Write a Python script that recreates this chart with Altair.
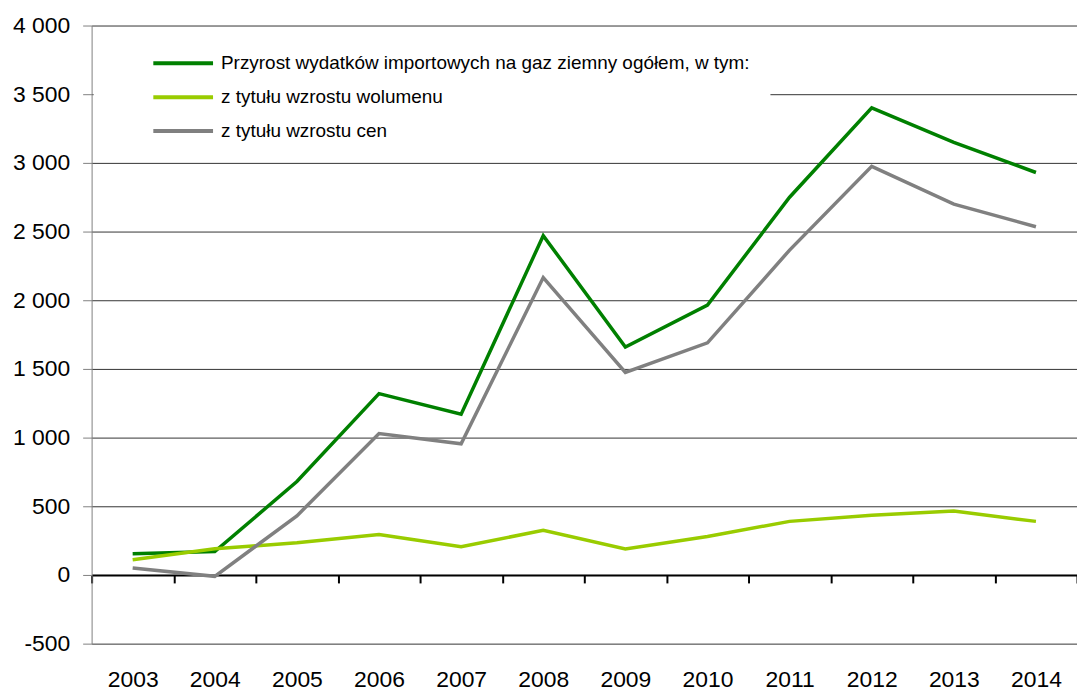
import altair as alt
import pandas as pd

years = [str(y) for y in range(2003, 2015)]
total = [155, 170, 680, 1320, 1170, 2470, 1660, 1965, 2750, 3400, 3150, 2930]
volume = [110, 190, 235, 295, 205, 325, 190, 280, 390, 435, 465, 390]
price = [50, -10, 430, 1030, 955, 2165, 1475, 1690, 2365, 2975, 2700, 2535]
series_names = [
    "Przyrost wydatków importowych na gaz ziemny ogółem, w tym:",
    "z tytułu wzrostu wolumenu",
    "z tytułu wzrostu cen",
]
colors = ["#008000", "#99CC00", "#808080"]
y_ticks = list(range(-500, 4001, 500))

rows = []
for name, vals in zip(series_names, [total, volume, price]):
    for yr, v in zip(years, vals):
        rows.append({"rok": yr, "wartosc": v, "seria": name})
df = pd.DataFrame(rows)

W, H = 990, 621
zero_offset = -H * 500 / 4500

chart = alt.Chart(df).mark_line(strokeWidth=3.5).encode(
    x=alt.X(
        "rok:O",
        scale=alt.Scale(paddingInner=0, paddingOuter=0),
        axis=alt.Axis(
            title=None, orient="bottom", offset=zero_offset,
            domainColor="black", domainWidth=2,
            tickColor="black", tickWidth=2, tickSize=8, tickBand="extent",
            labelPadding=86, labelFontSize=23, labelColor="black",
            labelAngle=0, labelBaseline="top", grid=False,
        ),
    ),
    y=alt.Y(
        "wartosc:Q",
        scale=alt.Scale(domain=[-500, 4000], nice=False, zero=False),
        axis=alt.Axis(
            values=y_ticks, title=None,
            domainColor="#808080", domainWidth=1,
            tickColor="#808080", tickWidth=1, tickSize=9,
            labelPadding=13, labelFontSize=23, labelColor="black",
            labelExpr="replace(replace(format(datum.value, ','), ',', ' '), '\u2212', '-')",
            grid=True, gridColor="#333333", gridWidth=1,
        ),
    ),
    color=alt.Color(
        "seria:N",
        scale=alt.Scale(domain=series_names, range=colors),
        sort=series_names,
        legend=alt.Legend(
            title=None, orient="none", legendX=2, legendY=6,
            symbolType="M2.8,0H8.8", symbolSize=400, symbolStrokeWidth=4,
            symbolFillColor="transparent",
            labelFontSize=19, labelColor="black", labelOffset=84,
            labelLimit=900, rowPadding=12,
            fillColor="white", padding=20,
        ),
    ),
).properties(
    width=W, height=H,
    autosize=alt.AutoSizeParams(type="none"),
    padding={"left": 84, "top": 16, "right": 0, "bottom": 50},
).configure(
    font="Liberation Sans",
).configure_view(stroke=None)

chart.save("out.html", embed_options={"renderer": "svg", "actions": False})
